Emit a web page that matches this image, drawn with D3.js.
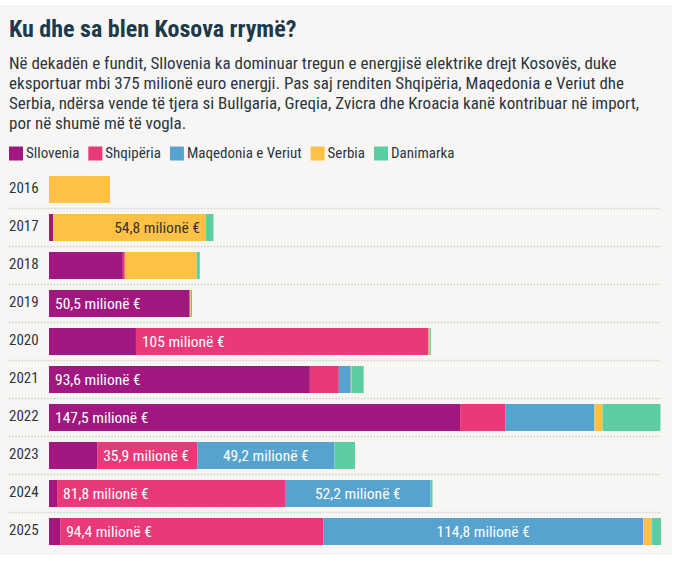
<!DOCTYPE html>
<html>
<head>
<meta charset="utf-8">
<script src="https://cdn.jsdelivr.net/npm/d3@7"></script>
<style>
  html, body { margin: 0; padding: 0; background: #ffffff; }
  svg { display: block; }
  text { font-family: "Roboto Condensed", "Roboto", sans-serif; }
</style>
</head>
<body>
<svg id="chart" width="674" height="562"></svg>
<script>
// ---- Data ----
const years = [2016, 2017, 2018, 2019, 2020, 2021, 2022, 2023, 2024, 2025];
const seriesNames = ["Sllovenia", "Shqipëria", "Maqedonia e Veriut", "Serbia", "Danimarka"];
const sllovenia  = [0,    1.5,  26.5, 50.5, 31.2, 93.6, 147.5, 17.3, 2.9,  4.0];
const shqiperia  = [0,    0,    0.7,  0,    105,  10.4, 16.2,  35.9, 81.8, 94.4];
const maqedonia  = [0,    0,    0,    0,    0,    4.3,  32.0,  49.2, 52.2, 114.8];
const serbia     = [21.9, 54.8, 25.8, 0.4,  0.3,  0.3,  2.9,   0,    0,    3.2];
const danimarka  = [0,    2.7,  1.1,  0.4,  0.5,  4.3,  20.8,  7.4,  0.7,  3.2];
const seriesColors = ["#a0177f", "#e83a78", "#56a3cf", "#ffc046", "#5ccda3"];
// labelled segments: [year, series]
const labelled = [
  [2017, "Serbia"], [2019, "Sllovenia"], [2020, "Shqipëria"], [2021, "Sllovenia"],
  [2022, "Sllovenia"], [2023, "Shqipëria"], [2023, "Maqedonia e Veriut"],
  [2024, "Shqipëria"], [2024, "Maqedonia e Veriut"], [2025, "Shqipëria"],
  [2025, "Maqedonia e Veriut"]
];
const titleText = "Ku dhe sa blen Kosova rrymë?";
const subtitleLines = [
  "Në dekadën e fundit, Sllovenia ka dominuar tregun e energjisë elektrike drejt Kosovës, duke",
  "eksportuar mbi 375 milionë euro energji. Pas saj renditen Shqipëria, Maqedonia e Veriut dhe",
  "Serbia, ndërsa vende të tjera si Bullgaria, Greqia, Zvicra dhe Kroacia kanë kontribuar në import,",
  "por në shumë më të vogla."
];
const unitSuffix = " milionë €";

// ---- Build table ----
const allSeries = [sllovenia, shqiperia, maqedonia, serbia, danimarka];
const table = years.map((y, i) => {
  const row = { year: y };
  seriesNames.forEach((s, j) => row[s] = allSeries[j][i]);
  return row;
});
const stacked = d3.stack().keys(seriesNames)(table);
const totals = table.map(r => d3.sum(seriesNames, s => r[s]));

// ---- Layout ----
const svg = d3.select("#chart");
svg.append("rect").attr("x", 0).attr("y", 5).attr("width", 672).attr("height", 550).attr("fill", "#f7f6f4");

const titleColor = "#1c3a4b";
const textColor = "#2c3640";

svg.append("text").attr("x", 9).attr("y", 36.7)
  .attr("font-size", 24).attr("font-weight", "bold").attr("fill", titleColor)
  .text(titleText);

svg.append("g").selectAll("text").data(subtitleLines).join("text")
  .attr("x", 9).attr("y", (d, i) => 68.7 + i * 20)
  .attr("font-size", 17).attr("fill", textColor)
  .text(d => d);

// Legend
const legend = svg.append("g").attr("transform", "translate(9,0)");
let lx = 0;
seriesNames.forEach((s, i) => {
  const g = legend.append("g").attr("transform", `translate(${lx},0)`);
  g.append("rect").attr("x", 0).attr("y", 146.5).attr("width", 14).attr("height", 14).attr("fill", seriesColors[i]);
  const t = g.append("text").attr("x", 17).attr("y", 158.3).attr("font-size", 15).attr("fill", textColor).text(s);
  lx += 17 + t.node().getComputedTextLength() + 9;
});

// Scales
const x = d3.scaleLinear().domain([0, d3.max(totals)]).range([49, 661]);
const pIn = 11 / 38;
const y = d3.scaleBand().domain(years).range([170.5, 550.5]).paddingInner(pIn).paddingOuter(pIn / 2);

// Separators
svg.append("g").selectAll("line").data(years.slice(0, -1)).join("line")
  .attr("x1", 9).attr("x2", 661)
  .attr("y1", d => y(d) + y.bandwidth() + y.step() * pIn / 2)
  .attr("y2", d => y(d) + y.bandwidth() + y.step() * pIn / 2)
  .attr("stroke", "#cfccc8").attr("stroke-width", 1.3).attr("stroke-dasharray", "1.4 1.8");

// Year labels
svg.append("g").selectAll("text").data(years).join("text")
  .attr("x", 9).attr("y", d => y(d) + y.bandwidth() / 2 + 3)
  .attr("font-size", 15).attr("fill", textColor)
  .text(d => d);

// Bars
const barsG = svg.append("g");
stacked.forEach((layer, j) => {
  barsG.append("g").attr("fill", seriesColors[j])
    .selectAll("rect").data(layer).join("rect")
    .attr("x", d => x(d[0]))
    .attr("y", d => y(d.data.year))
    .attr("width", d => Math.max(0, x(d[1]) - x(d[0])))
    .attr("height", y.bandwidth());
});

// Value labels
const fmt = v => String(v).replace(".", ",") + unitSuffix;
const labG = svg.append("g");
labelled.forEach(([yr, s]) => {
  const j = seriesNames.indexOf(s);
  const seg = stacked[j][years.indexOf(yr)];
  const x0 = x(seg[0]), x1 = x(seg[1]);
  let anchor = "start", tx = x0 + 6, fill = "#ffffff";
  if (s === "Maqedonia e Veriut") { anchor = "middle"; tx = (x0 + x1) / 2; }
  if (s === "Serbia") { anchor = "end"; tx = x1 - 6; fill = "#333333"; }
  labG.append("text")
    .attr("x", tx).attr("y", y(yr) + y.bandwidth() / 2 + 5.5)
    .attr("text-anchor", anchor).attr("font-size", 15.5).attr("fill", fill)
    .text(fmt(seg.data[s]));
});
</script>
</body>
</html>
